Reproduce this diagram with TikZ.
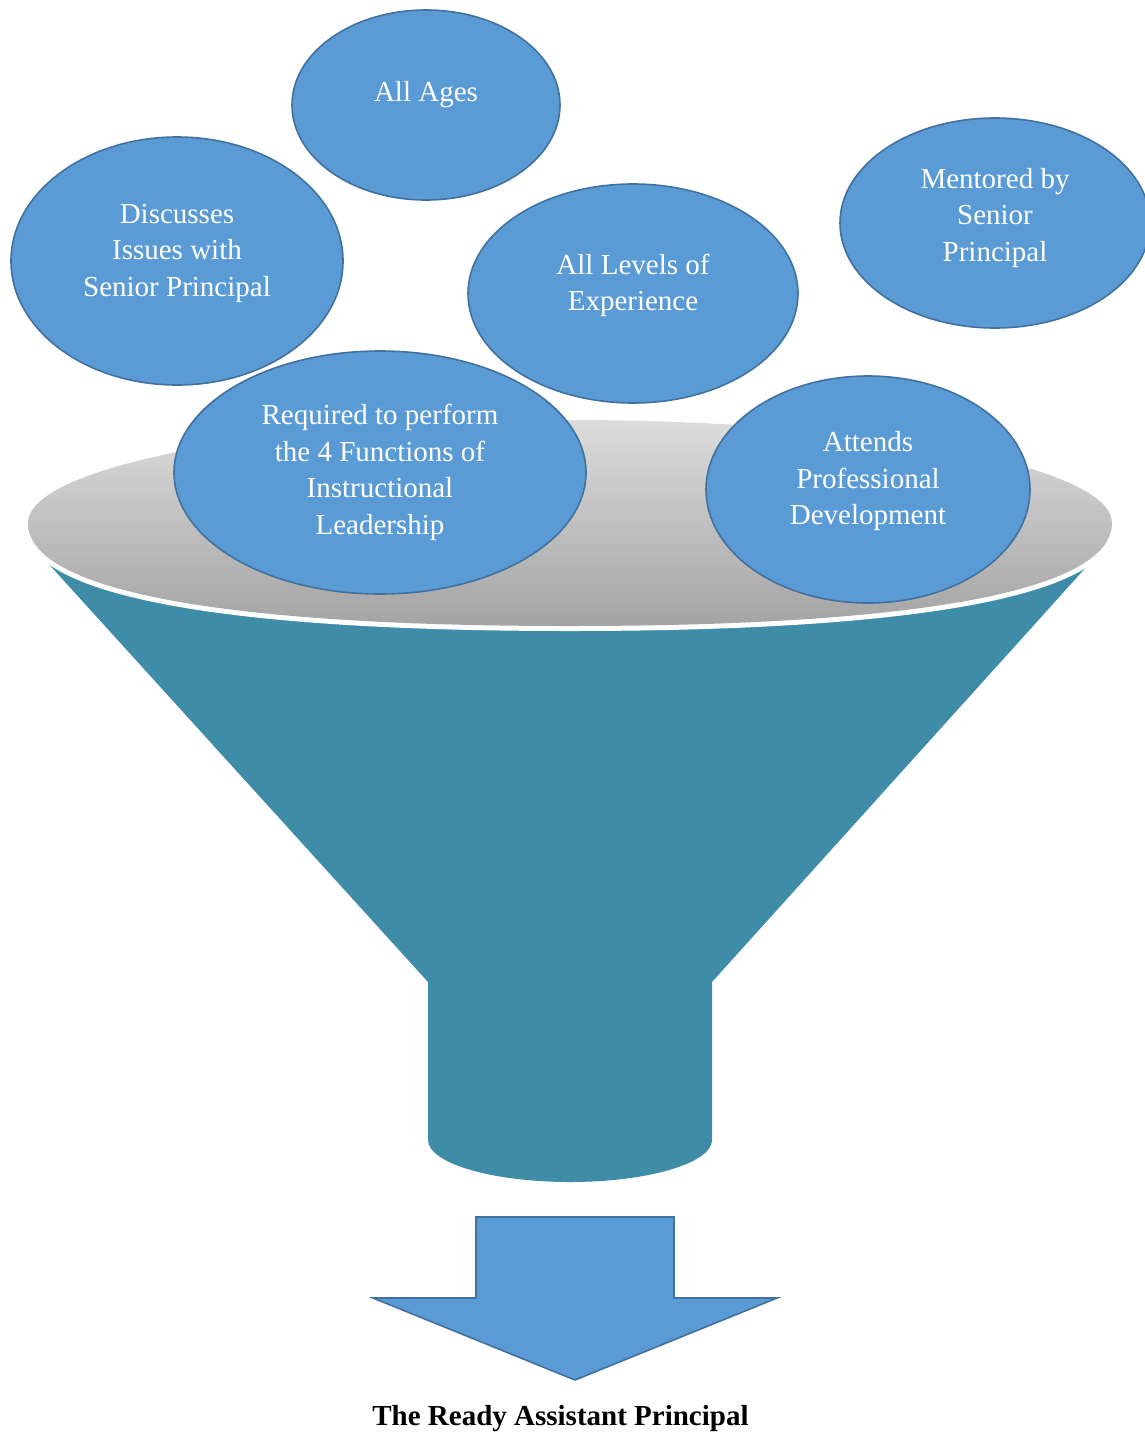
\documentclass[tikz,border=0pt]{standalone}
\usepackage{fontspec}
\setmainfont{Liberation Serif}
\usetikzlibrary{shapes.geometric}
\definecolor{bubblefill}{HTML}{5B9BD5}
\definecolor{bubbleline}{HTML}{41719C}
\definecolor{funnelteal}{RGB}{62,140,168}
\definecolor{mouthlight}{RGB}{220,220,220}
\definecolor{mouthdark}{RGB}{164,164,164}
\begin{document}
\begin{tikzpicture}[x=1pt,y=-1pt,
  bubble/.style={ellipse, draw=bubbleline, fill=bubblefill, line width=1.6pt, inner sep=0pt},
  bubbletext/.style={text=white, align=center, inner sep=0pt,
    font=\fontsize{29}{36.5}\selectfont},
  titletext/.style={font=\fontsize{29}{34}\selectfont\bfseries, inner sep=0pt},
  mouthpath/.style={insert path={
    (28,523) .. controls (28,466.1) and (270.8,420) .. (570,420)
    .. controls (869.2,420) and (1112,466.1) .. (1112,523)
    .. controls (1112,590) and (922.3,626) .. (570,626)
    .. controls (217.7,626) and (28,590) .. (28,523) -- cycle}},
]
\useasboundingbox[fill=white] (0,0) rectangle (1144,1433);

% funnel body: cone and spout
\fill[funnelteal] (36,528) -- (36,550) -- (428,982) -- (428,1140)
  .. controls (428,1163) and (491.6,1182) .. (570,1182)
  .. controls (648.4,1182) and (712,1163) .. (712,1140)
  -- (712,982) -- (1098,554) -- (1098,528) -- cycle;

% white lip round the mouth
\draw[white, line width=10pt, line join=round] [mouthpath];

% grey mouth of the funnel
\shade[top color=mouthlight, bottom color=mouthdark] [mouthpath];

% bubbles
\node[bubble, minimum width=268pt, minimum height=190pt] (ages) at (426,105) {};
\node[bubbletext] (agesT) at ([yshift=10pt]ages.center) {All Ages};

\node[bubble, minimum width=332pt, minimum height=248pt] (discuss) at (177,261) {};
\node[bubbletext] (discussT) at ([yshift=8pt]discuss.center) {Discusses\\Issues with\\Senior Principal};

\node[bubble, minimum width=330pt, minimum height=219pt] (levels) at (633,293.5) {};
\node[bubbletext] (levelsT) at ([yshift=8pt]levels.center) {All Levels of\\Experience};

\node[bubble, minimum width=310pt, minimum height=210pt] (mentor) at (995,223) {};
\node[bubbletext] (mentorT) at ([yshift=5pt]mentor.center) {Mentored by\\Senior\\Principal};

\node[bubble, minimum width=412pt, minimum height=243pt] (functions) at (380,472.5) {};
\node[bubbletext] (functionsT) at ([yshift=0pt]functions.center) {Required to perform\\the 4 Functions of\\Instructional\\Leadership};

\node[bubble, minimum width=324pt, minimum height=227pt] (develop) at (868,489.5) {};
\node[bubbletext] (developT) at ([yshift=8pt]develop.center) {Attends\\Professional\\Development};

% output arrow
\draw[draw=bubbleline, fill=bubblefill, line width=1.6pt, line join=miter]
  (476,1217) -- (674,1217) -- (674,1298) -- (777,1298) -- (575,1380)
  -- (373,1298) -- (476,1298) -- cycle;

\node[titletext] (result) at (560.5,1419) {The Ready Assistant Principal};
\end{tikzpicture}
\end{document}
